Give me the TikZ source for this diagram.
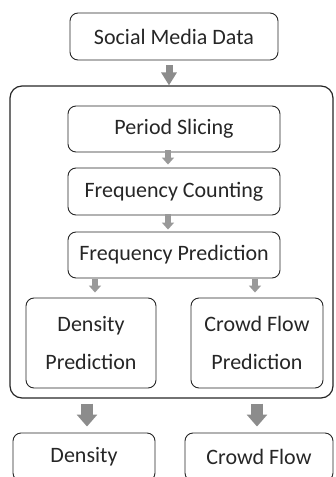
\documentclass[tikz,border=0pt]{standalone}
\usepackage{fontspec}
\setmainfont{Carlito}
\usetikzlibrary{arrows.meta,calc}
\tikzset{
  box/.style={draw=black!85, line width=0.9pt, rounded corners=8pt, inner sep=0pt,
    align=center, font=\fontsize{22}{38}\selectfont, text=black!85},
  outerbox/.style={draw=black!85, line width=1.2pt, rounded corners=12pt, inner sep=0pt},
  bigarrow/.style={draw=black!45, line width=9pt, -{Triangle[width=18pt,length=12pt,fill=black!45]}},
  smallarrow/.style={draw=black!40, line width=6pt, -{Triangle[width=12pt,length=7pt,fill=black!40]}}
}
\begin{document}
\begin{tikzpicture}[x=1pt,y=-1pt]
\useasboundingbox (0,0) rectangle (335,477);
\begin{scope}
\clip (0,0) rectangle (335,477);
\node[box, minimum width=208pt, minimum height=47pt] (sm) at (174,36.5) {Social Media Data};
\node[outerbox, minimum width=323pt, minimum height=312pt] (outer) at (171.5,242) {};
\node[box, minimum width=212pt, minimum height=46pt] (ps) at (174,129) {Period Slicing};
\node[box, minimum width=212pt, minimum height=47pt] (fc) at (174,191.5) {Frequency Counting};
\node[box, minimum width=212pt, minimum height=46pt] (fp) at (174,255) {Frequency Prediction};
\node[box, minimum width=130pt, minimum height=90pt] (dp) at (91,343) {Density\\Prediction};
\node[box, minimum width=132pt, minimum height=90pt] (cp) at (257,343) {Crowd Flow\\Prediction};
\node[box, minimum width=142pt, minimum height=48pt] (d) at (84,457) {Density};
\node[box, minimum width=148pt, minimum height=48pt] (cf) at (259,457) {Crowd Flow};
\end{scope}
\draw[bigarrow, line width=7pt, -{Triangle[width=15pt,length=13pt,fill=black!45]}, shorten <=5pt] (sm.south -| 169,0) -- (outer.north -| 169,0);
\draw[smallarrow, shorten <=-2pt, shorten >=3pt] (ps.south -| 168,0) -- (fc.north -| 168,0);
\draw[smallarrow, shorten <=-1pt, shorten >=2pt] (fc.south -| 168,0) -- (fp.north -| 168,0);
\draw[smallarrow, shorten <=1pt, shorten >=5pt] (fp.south -| 95,0) -- (dp.north -| 95,0);
\draw[smallarrow, shorten <=1pt, shorten >=5pt] (fp.south -| 255,0) -- (cp.north -| 255,0);
\draw[bigarrow, line width=12pt, -{Triangle[width=20pt,length=12pt,fill=black!45]}, shorten <=5pt, shorten >=6pt] (outer.south -| 87,0) -- (d.north -| 87,0);
\draw[bigarrow, line width=12pt, -{Triangle[width=20pt,length=12pt,fill=black!45]}, shorten <=5pt, shorten >=6pt] (outer.south -| 257,0) -- (cf.north -| 257,0);
\end{tikzpicture}
\end{document}
